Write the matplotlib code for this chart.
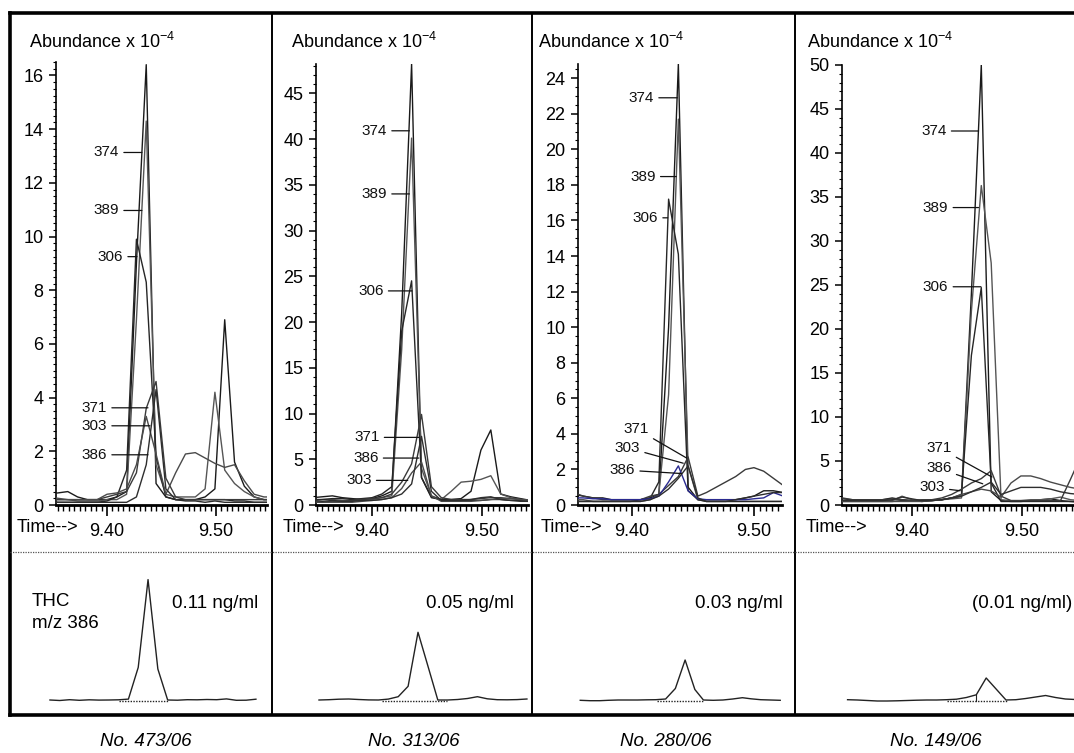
import matplotlib
matplotlib.use("Agg")
import matplotlib.pyplot as plt
from matplotlib.ticker import MultipleLocator, FixedLocator, FixedFormatter
from matplotlib.lines import Line2D

plt.rcParams["font.family"] = ["Liberation Sans", "DejaVu Sans"]
plt.rcParams["mathtext.fontset"] = "custom"
plt.rcParams["mathtext.rm"] = "Liberation Sans"
plt.rcParams["mathtext.it"] = "Liberation Sans:italic"

# ---------------------------------------------------------------- data
samples = ["No. 473/06", "No. 313/06", "No. 280/06", "No. 149/06"]
concentrations = ["0.11 ng/ml", "0.05 ng/ml", "0.03 ng/ml", "(0.01 ng/ml)"]
ions = ["374", "389", "306", "371", "303", "386"]

# scan times (min)
scan_a = [9.337, 9.346, 9.355, 9.364, 9.373, 9.382, 9.391, 9.400, 9.409,
          9.418, 9.427, 9.436, 9.445, 9.454, 9.463, 9.472, 9.481, 9.490,
          9.499, 9.508, 9.517, 9.526, 9.535, 9.544, 9.553]
scan_b = [9.352, 9.360, 9.368, 9.376, 9.383, 9.391, 9.399, 9.407, 9.415,
          9.422, 9.430, 9.438, 9.446, 9.454, 9.461, 9.469, 9.477, 9.485,
          9.493, 9.500, 9.508, 9.516, 9.524, 9.532]

# SIM ion traces, abundance x 1e-4
ions_473 = {
    "374": [0.4, 0.4, 0.45, 0.5, 0.3, 0.2, 0.2, 0.2, 0.3, 0.5, 9.0, 16.4, 0.8,
            0.3, 0.2, 0.2, 0.2, 0.3, 0.6, 6.9, 1.6, 0.7, 0.3, 0.2, 0.2],
    "389": [0.2, 0.2, 0.2, 0.2, 0.15, 0.15, 0.15, 0.2, 0.2, 0.4, 6.9, 14.3, 1.5,
            0.4, 0.3, 0.3, 0.3, 0.6, 4.2, 1.3, 0.8, 0.5, 0.3, 0.2, 0.2],
    "306": [0.15, 0.15, 0.1, 0.1, 0.1, 0.1, 0.1, 0.15, 0.3, 1.3, 9.9, 8.3, 1.8,
            0.3, 0.2, 0.2, 0.2, 0.2, 0.2, 0.2, 0.15, 0.15, 0.1, 0.1, 0.1],
    "371": [0.2, 0.2, 0.2, 0.2, 0.2, 0.2, 0.2, 0.3, 0.4, 0.5, 1.2, 3.6, 4.6,
            1.0, 0.3, 0.2, 0.2, 0.2, 0.2, 0.2, 0.2, 0.2, 0.2, 0.2, 0.2],
    "303": [0.3, 0.3, 0.25, 0.2, 0.2, 0.2, 0.2, 0.4, 0.45, 0.6, 1.5, 3.3, 1.9,
            0.4, 1.2, 1.9, 1.95, 1.75, 1.55, 1.4, 1.5, 0.9, 0.4, 0.3, 0.3],
    "386": [0.1, 0.1, 0.1, 0.1, 0.1, 0.1, 0.1, 0.1, 0.1, 0.1, 0.3, 1.5, 4.3,
            0.6, 0.2, 0.15, 0.15, 0.1, 0.15, 0.1, 0.1, 0.1, 0.1, 0.1, 0.1],
}
ions_313 = {
    "374": [0.8, 0.8, 0.9, 1.0, 0.8, 0.7, 0.6, 0.7, 1.0, 1.5, 21.0, 48.2, 3.0,
            0.8, 0.6, 0.6, 0.7, 1.5, 6.0, 8.2, 1.2, 0.9, 0.7, 0.5, 0.5],
    "389": [0.5, 0.5, 0.6, 0.6, 0.5, 0.5, 0.5, 0.6, 0.8, 1.0, 17.0, 40.1, 4.0,
            1.0, 0.6, 1.5, 2.5, 2.6, 2.8, 3.2, 1.2, 0.8, 0.6, 0.5, 0.5],
    "306": [0.6, 0.6, 0.6, 0.7, 0.7, 0.6, 0.7, 0.8, 1.2, 2.0, 19.0, 24.5, 3.0,
            0.9, 0.6, 0.5, 0.5, 0.5, 0.5, 0.6, 0.6, 0.5, 0.5, 0.4, 0.4],
    "371": [0.3, 0.3, 0.3, 0.4, 0.4, 0.5, 0.6, 0.7, 0.8, 1.2, 2.5, 4.5, 9.9,
            2.0, 0.8, 0.6, 0.6, 0.6, 0.7, 0.8, 0.8, 0.7, 0.6, 0.4, 0.4],
    "303": [0.4, 0.4, 0.3, 0.3, 0.3, 0.3, 0.4, 0.5, 0.6, 0.8, 1.8, 3.5, 4.7,
            1.0, 0.4, 0.4, 0.4, 0.4, 0.5, 0.6, 0.7, 0.7, 0.6, 0.5, 0.5],
    "386": [0.5, 0.5, 0.4, 0.5, 0.4, 0.4, 0.5, 0.5, 0.6, 0.8, 1.2, 2.3, 7.5,
            1.5, 0.5, 0.5, 0.5, 0.6, 0.8, 0.9, 0.6, 0.5, 0.4, 0.4, 0.4],
}
ions_280 = {
    "374": [0.6, 0.5, 0.4, 0.4, 0.3, 0.3, 0.3, 0.3, 0.4, 0.6, 10.0, 24.8,
            1.0, 0.3, 0.3, 0.3, 0.3, 0.3, 0.4, 0.5, 0.8, 0.8, 0.7, 0.6],
    "389": [0.3, 0.3, 0.2, 0.2, 0.2, 0.2, 0.2, 0.2, 0.3, 0.6, 6.2, 21.7,
            2.2, 0.3, 0.2, 0.2, 0.2, 0.2, 0.2, 0.2, 0.2, 0.2, 0.2, 0.2],
    "306": [0.2, 0.2, 0.2, 0.2, 0.2, 0.2, 0.2, 0.3, 0.4, 1.3, 17.2, 14.1,
            0.8, 0.3, 0.2, 0.2, 0.2, 0.2, 0.2, 0.2, 0.2, 0.2, 0.2, 0.2],
    "371": [0.7, 0.5, 0.4, 0.3, 0.3, 0.3, 0.3, 0.3, 0.5, 0.6, 1.1, 1.6,
            2.7, 0.5, 0.7, 1.0, 1.3, 1.6, 2.0, 2.1, 1.9, 1.5, 1.1, 0.9],
    "303": [0.4, 0.4, 0.35, 0.35, 0.3, 0.3, 0.3, 0.3, 0.35, 0.5, 1.3, 2.2,
            0.8, 0.35, 0.3, 0.3, 0.3, 0.3, 0.3, 0.35, 0.4, 0.7, 0.5, 0.4],
    "386": [0.2, 0.2, 0.2, 0.2, 0.2, 0.2, 0.2, 0.2, 0.3, 0.5, 0.9, 1.5,
            2.2, 0.4, 0.2, 0.2, 0.2, 0.3, 0.4, 0.5, 0.6, 0.7, 0.7, 0.6],
}
ions_149 = {
    "374": [0.7, 0.6, 0.6, 0.6, 0.6, 0.8, 0.6, 0.5, 0.5, 0.6, 0.6, 0.8, 1.0,
            24.0, 50.0, 1.5, 0.5, 0.4, 0.4, 0.5, 0.6, 0.7, 0.5, 0.4, 0.3],
    "389": [0.5, 0.5, 0.5, 0.5, 0.5, 0.5, 1.0, 0.6, 0.5, 0.5, 0.6, 0.7, 0.8,
            22.0, 36.3, 27.5, 0.6, 0.5, 0.5, 0.6, 0.6, 0.7, 0.9, 0.6, 0.5],
    "306": [0.4, 0.4, 0.4, 0.4, 0.4, 0.4, 0.5, 0.5, 0.4, 0.5, 0.6, 0.8, 1.2,
            17.0, 24.7, 2.5, 0.4, 0.4, 0.4, 0.4, 0.4, 0.4, 0.4, 0.4, 0.4],
    "371": [0.8, 0.6, 0.6, 0.6, 0.6, 0.7, 0.6, 0.5, 0.6, 0.6, 0.8, 1.2, 1.8,
            2.5, 3.0, 3.9, 1.0, 0.5, 0.5, 0.5, 0.5, 0.5, 0.5, 2.9, 5.4],
    "303": [0.4, 0.4, 0.4, 0.4, 0.4, 0.4, 0.4, 0.4, 0.4, 0.5, 0.6, 0.8, 1.2,
            1.5, 1.8, 1.6, 0.9, 2.5, 3.3, 3.3, 3.0, 2.6, 2.3, 2.0, 1.8],
    "386": [0.5, 0.5, 0.5, 0.5, 0.5, 0.6, 0.9, 0.7, 0.5, 0.5, 0.6, 0.8, 1.0,
            1.5, 2.0, 2.6, 1.2, 1.6, 2.0, 2.0, 2.0, 1.8, 1.5, 1.3, 1.2],
}

# THC m/z 386 detail traces (relative abundance)
thc_473 = [0.0, -0.5, 0.3, -0.3, 0.2, -0.1, 0.0, 0.2, 0.9, 32.6, 120.4, 31.0,
           0.0, -0.2, 0.3, 0.2, 0.5, 0.3, 1.1, -0.3, -0.2, 0.8]
thc_313 = [0.0, 0.3, 0.8, 1.0, 0.5, 0.1, 0.0, 0.9, 3.3, 13.7, 67.7, 34.0,
           0.0, 0.0, 0.5, 1.5, 3.3, 1.2, 0.3, 0.2, 0.4, 1.0]
thc_280 = [-0.3, -0.7, -0.7, -0.3, 0.0, 0.0, 0.0, 0.2, 0.3, 1.0, 11.5, 40.0,
           10.5, 0.0, -0.3, 0.0, 1.0, 2.3, 1.2, 0.3, 0.0, -0.3]
thc_149 = [0.3, 0.0, -0.5, -1.0, -1.0, -0.8, -0.5, -0.2, 0.0, 0.0, 0.3, 0.8,
           2.5, 5.2, 22.0, 11.0, 0.0, 0.3, 1.5, 3.0, 4.5, 2.5, 1.0, 0.5]
thc_times = [scan_a[1:23], scan_a[2:24], scan_b[1:23], scan_a[1:25]]
thc_traces = [thc_473, thc_313, thc_280, thc_149]
# integration windows (min)
thc_windows = [(9.409, 9.454), (9.412, 9.471), (9.423, 9.461), (9.436, 9.491)]
thc_split = [None, None, None, 9.463]

# ion label placement: (ion, text x, text y, line end x, line end y)
labels_473 = [("374", 9.411, 13.13, 9.432, 13.13), ("389", 9.411, 10.97, 9.432, 10.97),
              ("306", 9.4147, 9.25, 9.4275, 9.25), ("371", 9.400, 3.62, 9.4376, 3.62),
              ("303", 9.400, 2.95, 9.4394, 2.95), ("386", 9.400, 1.87, 9.4376, 1.87)]
labels_313 = [("374", 9.4136, 40.9, 9.434, 40.9), ("389", 9.4136, 34.0, 9.434, 34.0),
              ("306", 9.4105, 23.4, 9.4364, 23.4), ("371", 9.4068, 7.39, 9.4426, 7.39),
              ("386", 9.4059, 5.13, 9.4426, 5.13), ("303", 9.3996, 2.69, 9.4325, 2.69)]
labels_280 = [("374", 9.418, 22.9, 9.4372, 22.9), ("389", 9.4194, 18.47, 9.4363, 18.47),
              ("306", 9.4213, 16.15, 9.4293, 16.15), ("371", 9.4138, 4.29, 9.4448, 2.64),
              ("303", 9.4066, 3.22, 9.442, 2.35), ("386", 9.4025, 1.97, 9.4406, 1.77)]
labels_149 = [("374", 9.4314, 42.5, 9.4605, 42.5), ("389", 9.433, 33.8, 9.4605, 33.8),
              ("306", 9.433, 24.8, 9.4627, 24.8), ("371", 9.4361, 6.51, 9.4727, 3.18),
              ("386", 9.4361, 4.17, 9.4643, 2.41), ("303", 9.4298, 2.01, 9.4439, 1.62)]

# ---------------------------------------------------------------- layout
W, H = 1074, 753
fig = plt.figure(figsize=(W / 100, H / 100), dpi=100)


def rect(left, top, right, bottom):
    return [left / W, 1 - bottom / H, (right - left) / W, (bottom - top) / H]


def ftext(x, y, s, **kw):
    fig.text(x / W, 1 - y / H, s, **kw)


def fline(xs, ys, **kw):
    fig.add_artist(Line2D([x / W for x in xs], [1 - y / H for y in ys],
                          transform=fig.transFigure, **kw))


panels = [
    dict(ions=ions_473, times=scan_a, labels=labels_473, box=(56, 62, 267, 505),
         xlim=(9.3532, 9.5468), ylim=(0, 16.5), major=2, minor=0.25,
         abund_x=29, time_x=17, shift=1.8, conc_x=258, cap_x=146),
    dict(ions=ions_313, times=scan_a, labels=labels_313, box=(316, 64, 528, 505),
         xlim=(9.3491, 9.5418), ylim=(0, 48.2), major=5, minor=1,
         abund_x=291, time_x=283, shift=-3.5, conc_x=514, cap_x=414),
    dict(ions=ions_280, times=scan_b, labels=labels_280, box=(578, 64, 782, 505),
         xlim=(9.3557, 9.5230), ylim=(0, 24.8), major=2, minor=0.5,
         abund_x=538, time_x=541, shift=-3.0, conc_x=783, cap_x=666),
    dict(ions=ions_149, times=scan_a, labels=labels_149, box=(842, 65, 1078, 505),
         xlim=(9.3364, 9.5509), ylim=(0, 50), major=5, minor=1,
         abund_x=807, time_x=806, shift=-5.0, conc_x=1072, cap_x=936),
]

ion_colors = {"374": "#1a1a1a", "389": "#555555", "306": "#262626",
              "371": "#3a3a3a", "303": "#4a4a4a", "386": "#2e2e2e"}

for i, p in enumerate(panels):
    l, t, r, b = p["box"]
    ax = fig.add_axes(rect(l, t, r, b))
    ax.set_xlim(*p["xlim"])
    ax.set_ylim(*p["ylim"])
    ax.patch.set_alpha(0)
    for ion in ions:
        color = ion_colors[ion]
        if i == 2 and ion == "303":
            color = "#2a2a90"
        ax.plot(p["times"], p["ions"][ion], color=color, lw=1.0, zorder=3)

    for name, tx, ty, ex, ey in p["labels"]:
        ax.annotate(name, xy=(ex, ey), xytext=(tx, ty), ha="right", va="center",
                    fontsize=11, color="#111111",
                    arrowprops=dict(arrowstyle="-", lw=0.9, color="#111111",
                                    shrinkA=1.5, shrinkB=0))

    for side in ("top", "right"):
        ax.spines[side].set_visible(False)
    ax.spines["left"].set_linewidth(1.2)
    ax.spines["bottom"].set_linewidth(2.0)
    ax.xaxis.set_major_locator(FixedLocator([9.40, 9.50]))
    ax.xaxis.set_major_formatter(FixedFormatter(["9.40", "9.50"]))
    ax.xaxis.set_minor_locator(MultipleLocator(0.005))
    ax.yaxis.set_major_locator(MultipleLocator(p["major"]))
    ax.yaxis.set_minor_locator(MultipleLocator(p["minor"]))
    ax.tick_params(axis="x", which="major", direction="out", length=8, width=1.2,
                   labelsize=13, pad=5)
    ax.tick_params(axis="x", which="minor", direction="out", length=4.5, width=1.0)
    ax.tick_params(axis="y", which="major", direction="out", length=5, width=1.1,
                   labelsize=13, pad=4)
    ax.tick_params(axis="y", which="minor", direction="out", length=2.5, width=0.8)

    ftext(p["abund_x"], 42, r"Abundance x 10$^{\mathregular{-4}}$", fontsize=13,
          ha="left", va="center")
    ftext(p["time_x"], 528, "Time-->", fontsize=13, ha="left", va="center")

    # THC m/z 386 detail
    sh = p["shift"]
    bx = fig.add_axes(rect(l + sh, 560, r + sh, 705))
    bx.set_xlim(*p["xlim"])
    bx.set_ylim(-5, 140)
    bx.axis("off")
    bx.plot(thc_times[i], thc_traces[i], color="#222222", lw=1.0, clip_on=False)
    w0, w1 = thc_windows[i]
    bx.plot([w0, w1], [-0.6, -0.6], color="#222222", lw=1.0, ls=(0, (1, 1)),
            clip_on=False)
    if thc_split[i] is not None:
        ts = thc_split[i]
        hs = thc_traces[i][thc_times[i].index(ts)]
        bx.plot([ts, ts], [-0.6, hs], color="#222222", lw=0.8, clip_on=False)

    ftext(p["conc_x"], 603, concentrations[i], fontsize=13.5, ha="right", va="center")
    ftext(p["cap_x"], 742, samples[i], fontsize=13.5, ha="center", va="center",
          style="italic")

ftext(31.5, 601, "THC", fontsize=13.5, ha="left", va="center")
ftext(31.5, 623, "m/z 386", fontsize=13.5, ha="left", va="center")

# frame, panel dividers and separator
fline([10, 1080], [13, 13], color="black", lw=2.6)
fline([10, 10], [13, 715], color="black", lw=2.6)
fline([10, 1080], [715, 715], color="black", lw=2.6)
for xd in (272, 532, 795):
    fline([xd, xd], [13, 715], color="black", lw=1.4)
fline([10, 1074], [552, 552], color="#555555", lw=0.9, ls=(0, (1, 1)))

fig.savefig("out.png", dpi=100)
